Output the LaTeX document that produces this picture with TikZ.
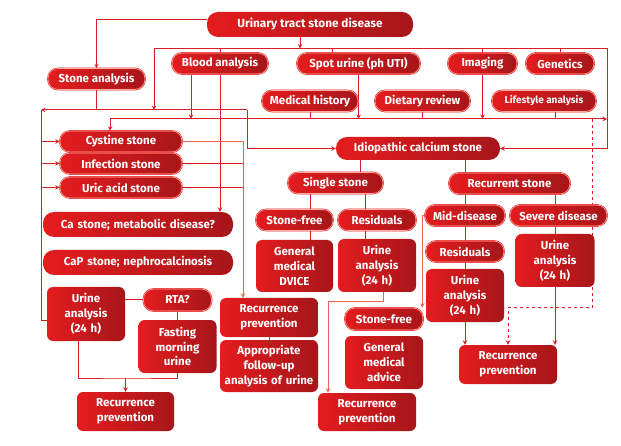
\documentclass[tikz,border=0pt]{standalone}
\usepackage{fontspec}
\setmainfont{Fira Sans}
\usetikzlibrary{backgrounds}
\definecolor{redL}{RGB}{228,28,30}
\definecolor{redR}{RGB}{166,22,26}
\definecolor{linkred}{RGB}{214,30,36}
\definecolor{linkpale}{RGB}{232,100,80}
\definecolor{rimpale}{RGB}{246,172,160}

\begin{document}
\begin{tikzpicture}[x=1pt,y=-1pt,>=stealth,
  stonepill/.style={draw=redL, double=rimpale, double distance=0.6pt, line width=0.5pt,
    left color=redL, right color=redR, rounded corners=10pt, minimum height=21pt,
    inner sep=0pt, text=white, font=\bfseries\fontsize{11.5}{13}\selectfont},
  headpill/.style={left color=redL, right color=redR, rounded corners=11pt,
    inner sep=0pt, text=white, font=\bfseries\fontsize{11.8}{13}\selectfont},
  stonebox/.style={left color=redL, right color=redR, rounded corners=6pt,
    inner sep=0pt, text=white, align=center, font=\bfseries\fontsize{11.5}{14.8}\selectfont},
  link/.style={draw=linkred, line width=1pt},
  linkarr/.style={link, ->}]

\useasboundingbox (0,0) rectangle (621,446);

% top of the chart
\node[headpill, minimum width=206pt, minimum height=25pt] (top) at (310,24.5) {Urinary tract stone disease};
\node[stonepill, minimum width=97pt] (stoneana) at (96.5,79) {Stone analysis};
\node[stonepill, minimum width=96pt] (blood) at (220,63.5) {Blood analysis};
\node[stonepill, minimum width=123pt] (spot) at (358.5,63.5) {Spot urine (ph UTI)};
\node[stonepill, minimum width=69pt] (imaging) at (482.5,63.5) {Imaging};
\node[stonepill, minimum width=68pt] (genetics) at (560,63.5) {Genetics};
\node[stonepill, minimum width=96pt] (medhist) at (310,101) {Medical history};
\node[stonepill, minimum width=95pt] (dietary) at (422.5,101) {Dietary review};
\node[stonepill, minimum width=104pt, font=\bfseries\fontsize{10}{11}\selectfont] (lifestyle) at (544,101) {Lifestyle analysis};

% left column
\node[stonepill, minimum width=122pt] (cystine) at (121,141.5) {Cystine stone};
\node[stonepill, minimum width=122pt] (infection) at (121,163.5) {Infection stone};
\node[stonepill, minimum width=122pt] (uric) at (121,187.5) {Uric acid stone};
\node[stonebox, text width=190pt, minimum height=25pt, rounded corners=11pt] (castone) at (138,224.5) {Ca stone; metabolic disease?};
\node[stonebox, text width=190pt, minimum height=25pt, rounded corners=11pt] (capstone) at (138,262.5) {CaP stone; nephrocalcinosis};
\node[stonebox, text width=78pt, minimum height=54pt] (urineL) at (86,314) {Urine\\analysis\\(24 h)};
\node[stonepill, minimum width=68pt, minimum height=22pt] (rta) at (177.5,300) {RTA?};
\node[stonebox, text width=78pt, minimum height=53pt] (fasting) at (177.5,346.5) {Fasting\\morning\\urine};
\node[stonebox, text width=97pt, minimum height=39pt] (recL) at (125.5,411.5) {Recurrence\\prevention};
\node[stonebox, text width=98pt, minimum height=39pt] (recM) at (269,317.5) {Recurrence\\prevention};
\node[stonebox, text width=98pt, minimum height=52pt] (follow) at (269,366) {Appropriate\\follow-up\\analysis of urine};

% idiopathic calcium stone
\node[headpill, minimum width=164pt, minimum height=23pt, font=\bfseries\fontsize{11.5}{13}\selectfont] (idio) at (418,148.5) {Idiopathic calcium stone};
\node[stonepill, minimum width=95pt] (single) at (335.5,183) {Single stone};
\node[stonepill, minimum width=121pt] (recurrent) at (509.5,183.5) {Recurrent stone};
\node[stonepill, minimum width=77pt] (freeS) at (294.5,220) {Stone-free};
\node[stonepill, minimum width=78pt] (resS) at (377,220) {Residuals};
\node[stonebox, text width=77pt, minimum height=52pt] (general) at (294.5,266) {General\\medical\\DVICE};
\node[stonebox, text width=78pt, minimum height=53pt] (urineS) at (377,265.5) {Urine\\analysis\\(24 h)};
\node[stonepill, minimum width=78pt, minimum height=22pt] (free2) at (384,319) {Stone-free};
\node[stonebox, text width=78pt, minimum height=53pt] (advice) at (384,362.5) {General\\medical\\advice};
\node[stonebox, text width=98pt, minimum height=38pt] (recB) at (367,412) {Recurrence\\prevention};
\node[stonepill, minimum width=80pt] (mid) at (465,215.5) {Mid-disease};
\node[stonepill, minimum width=97pt] (severe) at (558.5,215.5) {Severe disease};
\node[stonepill, minimum width=78pt] (resM) at (465,251.5) {Residuals};
\node[stonebox, text width=78pt, minimum height=53pt] (urineM) at (465,295.5) {Urine\\analysis\\(24 h)};
\node[stonebox, text width=79pt, minimum height=53pt] (urineV) at (555,260.5) {Urine\\analysis\\(24 h)};
\node[stonebox, text width=98pt, minimum height=39pt] (recR) at (508,364.5) {Recurrence\\prevention};

\begin{scope}[on background layer]
\fill[white] (0,0) rectangle (621,446);
\coordinate (busL) at (154,48.5);
\coordinate (busR) at (607,48.5);
\coordinate (lineAL) at (41,110);
\coordinate (lineAR) at (247,110);
\coordinate (lineBL) at (110,119);
\coordinate (lineBR) at (607,119);
\coordinate (dashT) at (592,119);
\coordinate (dashB) at (592,308);
\coordinate (joinL) at (125.5,378);
\coordinate (bendS) at (328,302);

% from the top
\draw[linkarr] ([yshift=5pt]top.west) -| (stoneana.north);
\draw[linkarr] ([xshift=-10pt]top.south) -- ([xshift=-10pt]top.south |- busL);
\draw[link] (busL) -- (busR);
\draw[linkarr] (busL) -- (busL |- lineAL);
\draw[link] (blood.north) -- (blood.north |- busL);
\draw[link] ([xshift=-26.5pt]spot.north) -- ([xshift=-26.5pt]spot.north |- busL);
\draw[link] (imaging.north) -- (imaging.north |- busL);
\draw[link] (genetics.north) -- (genetics.north |- busL);
\draw[linkarr] (busR) |- (idio.east);

% second line
\draw[linkarr] (lineBL) -- (lineBR);
\draw[linkarr] (lineBL) -- (lineBL |- cystine.north);
\draw[linkarr] ([xshift=-29pt]blood.south) -- ([xshift=-29pt]blood.south |- lineBL);
\draw[linkarr] (blood.south) -- (blood.south |- castone.north);
\draw[linkarr] (spot.south) -- (spot.south |- lineBL);
\draw[linkarr] (imaging.south) -- (imaging.south |- lineBL);
\draw[link] (medhist.south) -- (medhist.south |- lineBL);
\draw[link] (dietary.south) -- (dietary.south |- lineBL);
\draw[link] ([xshift=11pt]lifestyle.south) -- ([xshift=11pt]lifestyle.south |- lineBL);
\draw[linkarr, dashed] (dashT) -- (dashB) -| (recR.north);

% stone analysis line
\draw[linkarr] (lineAR) -- (lineAL);
\draw[link] (stoneana.south) -- (stoneana.south |- lineAL);
\draw[linkarr] (lineAR) |- (idio.west);
\draw[link] (lineAL) |- ([yshift=-6pt]urineL.west);
\foreach \s in {cystine,infection,uric}
  \draw[linkarr] (lineAL |- \s.west) -- (\s.west);

% stones to recurrence prevention
\draw[linkarr, linkpale] (cystine.east) -| ([xshift=-26pt]recM.north);
\draw[link] (infection.east) -- ([xshift=-26pt]recM.north |- infection.east);
\draw[link] (uric.east) -- ([xshift=-26pt]recM.north |- uric.east);
\draw[link] (recM) -- (follow);

% RTA
\draw[link] (rta.west) -- (rta.west -| urineL.east);
\draw[link] (rta) -- (fasting);
\draw[link] ([xshift=-8pt]urineL.south) |- (joinL) -| (fasting.south);
\draw[linkarr] (joinL) -- (recL.north);

% idiopathic branch
\draw[link] ([xshift=24.5pt]single.north) -- ([xshift=24.5pt]single.north |- idio.south);
\draw[link] ([xshift=-44.5pt]recurrent.north) -- ([xshift=-44.5pt]recurrent.north |- idio.south);
\draw[link] ([xshift=15.5pt]freeS.north) -- ([xshift=15.5pt]freeS.north |- single.south);
\draw[link] ([xshift=-12pt]resS.north) -- ([xshift=-12pt]resS.north |- single.south);
\draw[link] ([xshift=15.5pt]freeS.south) -- ([xshift=15.5pt]general.north);
\draw[link] ([xshift=-12pt]resS.south) -- ([xshift=-12pt]urineS.north);
\draw[linkarr, linkpale] ([xshift=6pt]urineS.south) |- (bendS) -- (bendS |- recB.north);
\draw[link] (mid.north) -- (mid.north |- recurrent.south);
\draw[link] ([xshift=-3.5pt]severe.north) -- ([xshift=-3.5pt]severe.north |- recurrent.south);
\draw[linkarr, linkpale] (mid.west) -| ([xshift=-1pt]free2.north east);
\draw[link] (mid) -- (resM);
\draw[link] (resM) -- (urineM);
\draw[link] ([xshift=-3.5pt]severe.south) -- (urineV.north);
\draw[linkarr] (urineM.south) -- ([xshift=-43pt]recR.north);
\draw[linkarr] (urineV.south) -- ([xshift=47pt]recR.north);
\end{scope}
\end{tikzpicture}
\end{document}
